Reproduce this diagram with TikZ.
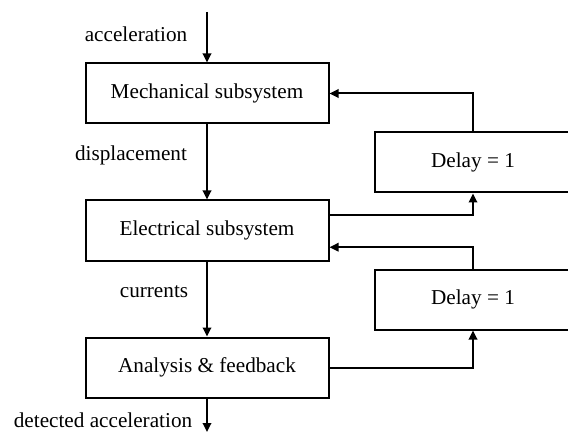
\documentclass[tikz,border=0pt]{standalone}
\usepackage{fontspec}
\setmainfont{Liberation Serif}
\usetikzlibrary{arrows.meta,calc}
\begin{document}
\begin{tikzpicture}[x=0.5pt,y=-0.5pt,
  every node/.style={font=\fontsize{10.6}{12.7}\selectfont, inner sep=0pt},
  blk/.style={draw, line width=1pt, minimum width=121.5pt, minimum height=30pt},
  dly/.style={draw, line width=1pt, minimum width=98.5pt, minimum height=30pt},
  arr/.style={line width=1pt, -{Triangle[width=4.2pt,length=4.5pt]}},
  conn/.style={line width=1pt}]
\clip (0,0) rectangle (568,433);
\fill[white] (0,0) rectangle (568,433);
\node[blk] (mech) at (207,93.5) {Mechanical subsystem};
\node[blk] (elec) at (207,230.5) {Electrical subsystem};
\node[blk] (anal) at (207,367.5) {Analysis \& feedback};
\node[dly] (d1) at (473,162.5) {Delay = 1};
\node[dly] (d2) at (473,299.5) {Delay = 1};
\coordinate (in) at (207,12);
\coordinate (out) at (207,432);
\node (lacc) at (136,34) {acceleration};
\node (ldisp) at (131,155) {displacement};
\node (lcur) at (154,292) {currents};
\node (ldet) at (103,420) {detected acceleration};
\draw[arr] (in) -- (mech.north);
\draw[arr] (mech.south) -- (elec.north);
\draw[arr] (elec.south) -- (anal.north);
\draw[arr] (anal.south) -- (out);
\draw[arr] (d1.north) |- (mech.east);
\draw[arr] ($(elec.north east)!0.25!(elec.south east)$) -| (d1.south);
\draw[arr] (d2.north) |- ($(elec.north east)!0.77!(elec.south east)$);
\draw[arr] (anal.east) -| (d2.south);
\end{tikzpicture}
\end{document}
